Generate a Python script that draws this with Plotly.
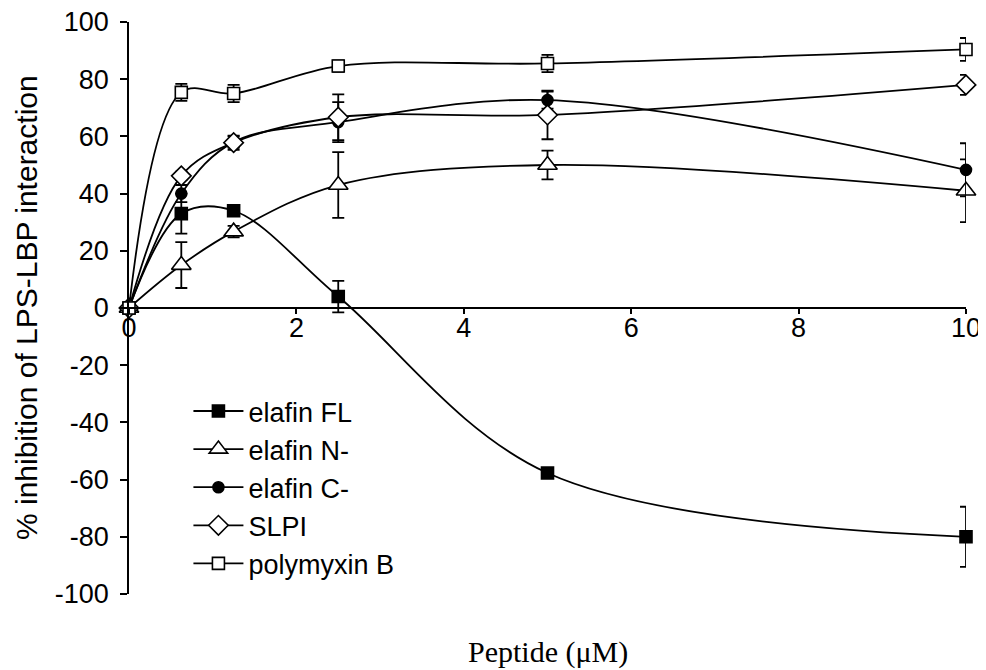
import plotly.graph_objects as go

peptide_uM = [0, 0.625, 1.25, 2.5, 5, 10]

elafin_fl = [0, 33, 34, 4, -57.7, -80]
elafin_fl_err = [0, 7, 1.5, 5.5, 1, 10.5]

elafin_n = [0, 15, 26.7, 43, 50, 41]
elafin_n_err = [0, 8, 2, 11.5, 5, 11]

elafin_c = [0, 40, 58, 65, 72.7, 48.3]
elafin_c_err = [0, 3, 2, 7, 3, 9.3]

slpi = [0, 46.2, 57.8, 66.7, 67.5, 78]
slpi_err = [0, 1.5, 2.5, 8, 8.5, 3.5]

polymyxin_b = [0, 75.4, 75, 84.6, 85.5, 90.4]
polymyxin_b_err = [0, 3, 3, 2, 3, 4]

x_ticks = [0, 2, 4, 6, 8, 10]
y_ticks = [100, 80, 60, 40, 20, 0, -20, -40, -60, -80, -100]
y_tick_text = ["100", "80", "60", "40", "20", "0", "-20", "-40", "-60", "-80", "-100"]

series = [
    ("elafin FL", elafin_fl, elafin_fl_err, "square", "black", 12),
    ("elafin N-", elafin_n, elafin_n_err, "triangle-up", "white", 17),
    ("elafin C-", elafin_c, elafin_c_err, "circle", "black", 11),
    ("SLPI", slpi, slpi_err, "diamond", "white", 15),
    ("polymyxin B", polymyxin_b, polymyxin_b_err, "square", "white", 12),
]

fig = go.Figure()
for i, (name, ys, errs, sym, fill, size) in enumerate(series):
    fig.add_trace(go.Scatter(
        x=peptide_uM, y=ys, name=name, mode="lines+markers",
        legendgroup=f"g{i}",
        line=dict(color="black", width=1.8, shape="spline", smoothing=1.0),
        marker=dict(symbol=sym, size=size, color=fill,
                    line=dict(color="black", width=1.6)),
        error_y=dict(type="data", array=errs, visible=True,
                     color="black", thickness=1.8, width=6),
        cliponaxis=False,
    ))

fig.update_layout(
    width=978, height=662,
    margin=dict(l=121, r=20, t=14, b=76, autoexpand=False),
    paper_bgcolor="white", plot_bgcolor="white",
    font=dict(family="Liberation Sans, Arial, sans-serif", size=27, color="black"),
    showlegend=True,
    legend=dict(x=0.071, y=0.362, xanchor="left", yanchor="top",
                bgcolor="rgba(0,0,0,0)", borderwidth=0,
                font=dict(size=27), tracegroupgap=0, itemwidth=50),
    xaxis=dict(range=[0, 10], tickvals=x_ticks,
               anchor="free", position=0.5, automargin=False,
               showline=True, linecolor="black", linewidth=1.5,
               ticks="outside", ticklen=5, tickwidth=1.5, tickcolor="black",
               showgrid=False, zeroline=False, ticklabelstandoff=-9,
               ticklabeloverflow="allow",
               tickfont=dict(size=27)),
    yaxis=dict(range=[-100, 100], tickvals=y_ticks, ticktext=y_tick_text,
               domain=[0, 1], automargin=False,
               showline=True, linecolor="black", linewidth=1.5,
               ticks="outside", ticklen=7, tickwidth=1.5, tickcolor="black",
               showgrid=False, zeroline=False, ticklabelstandoff=6,
               ticklabeloverflow="allow",
               tickfont=dict(size=27)),
    annotations=[
        dict(text="Peptide (\u03bcM)", x=0.5, y=-0.101,
             xref="paper", yref="paper", showarrow=False,
             xanchor="center", yanchor="middle",
             font=dict(family="Liberation Serif, Times New Roman, serif",
                       size=30, color="black")),
        dict(text="% inhibition of LPS-LBP interaction", x=-0.123, y=0.5,
             xref="paper", yref="paper", showarrow=False, textangle=-90,
             xanchor="center", yanchor="middle",
             font=dict(size=30, color="black")),
    ],
)

fig.write_html("out.html")
